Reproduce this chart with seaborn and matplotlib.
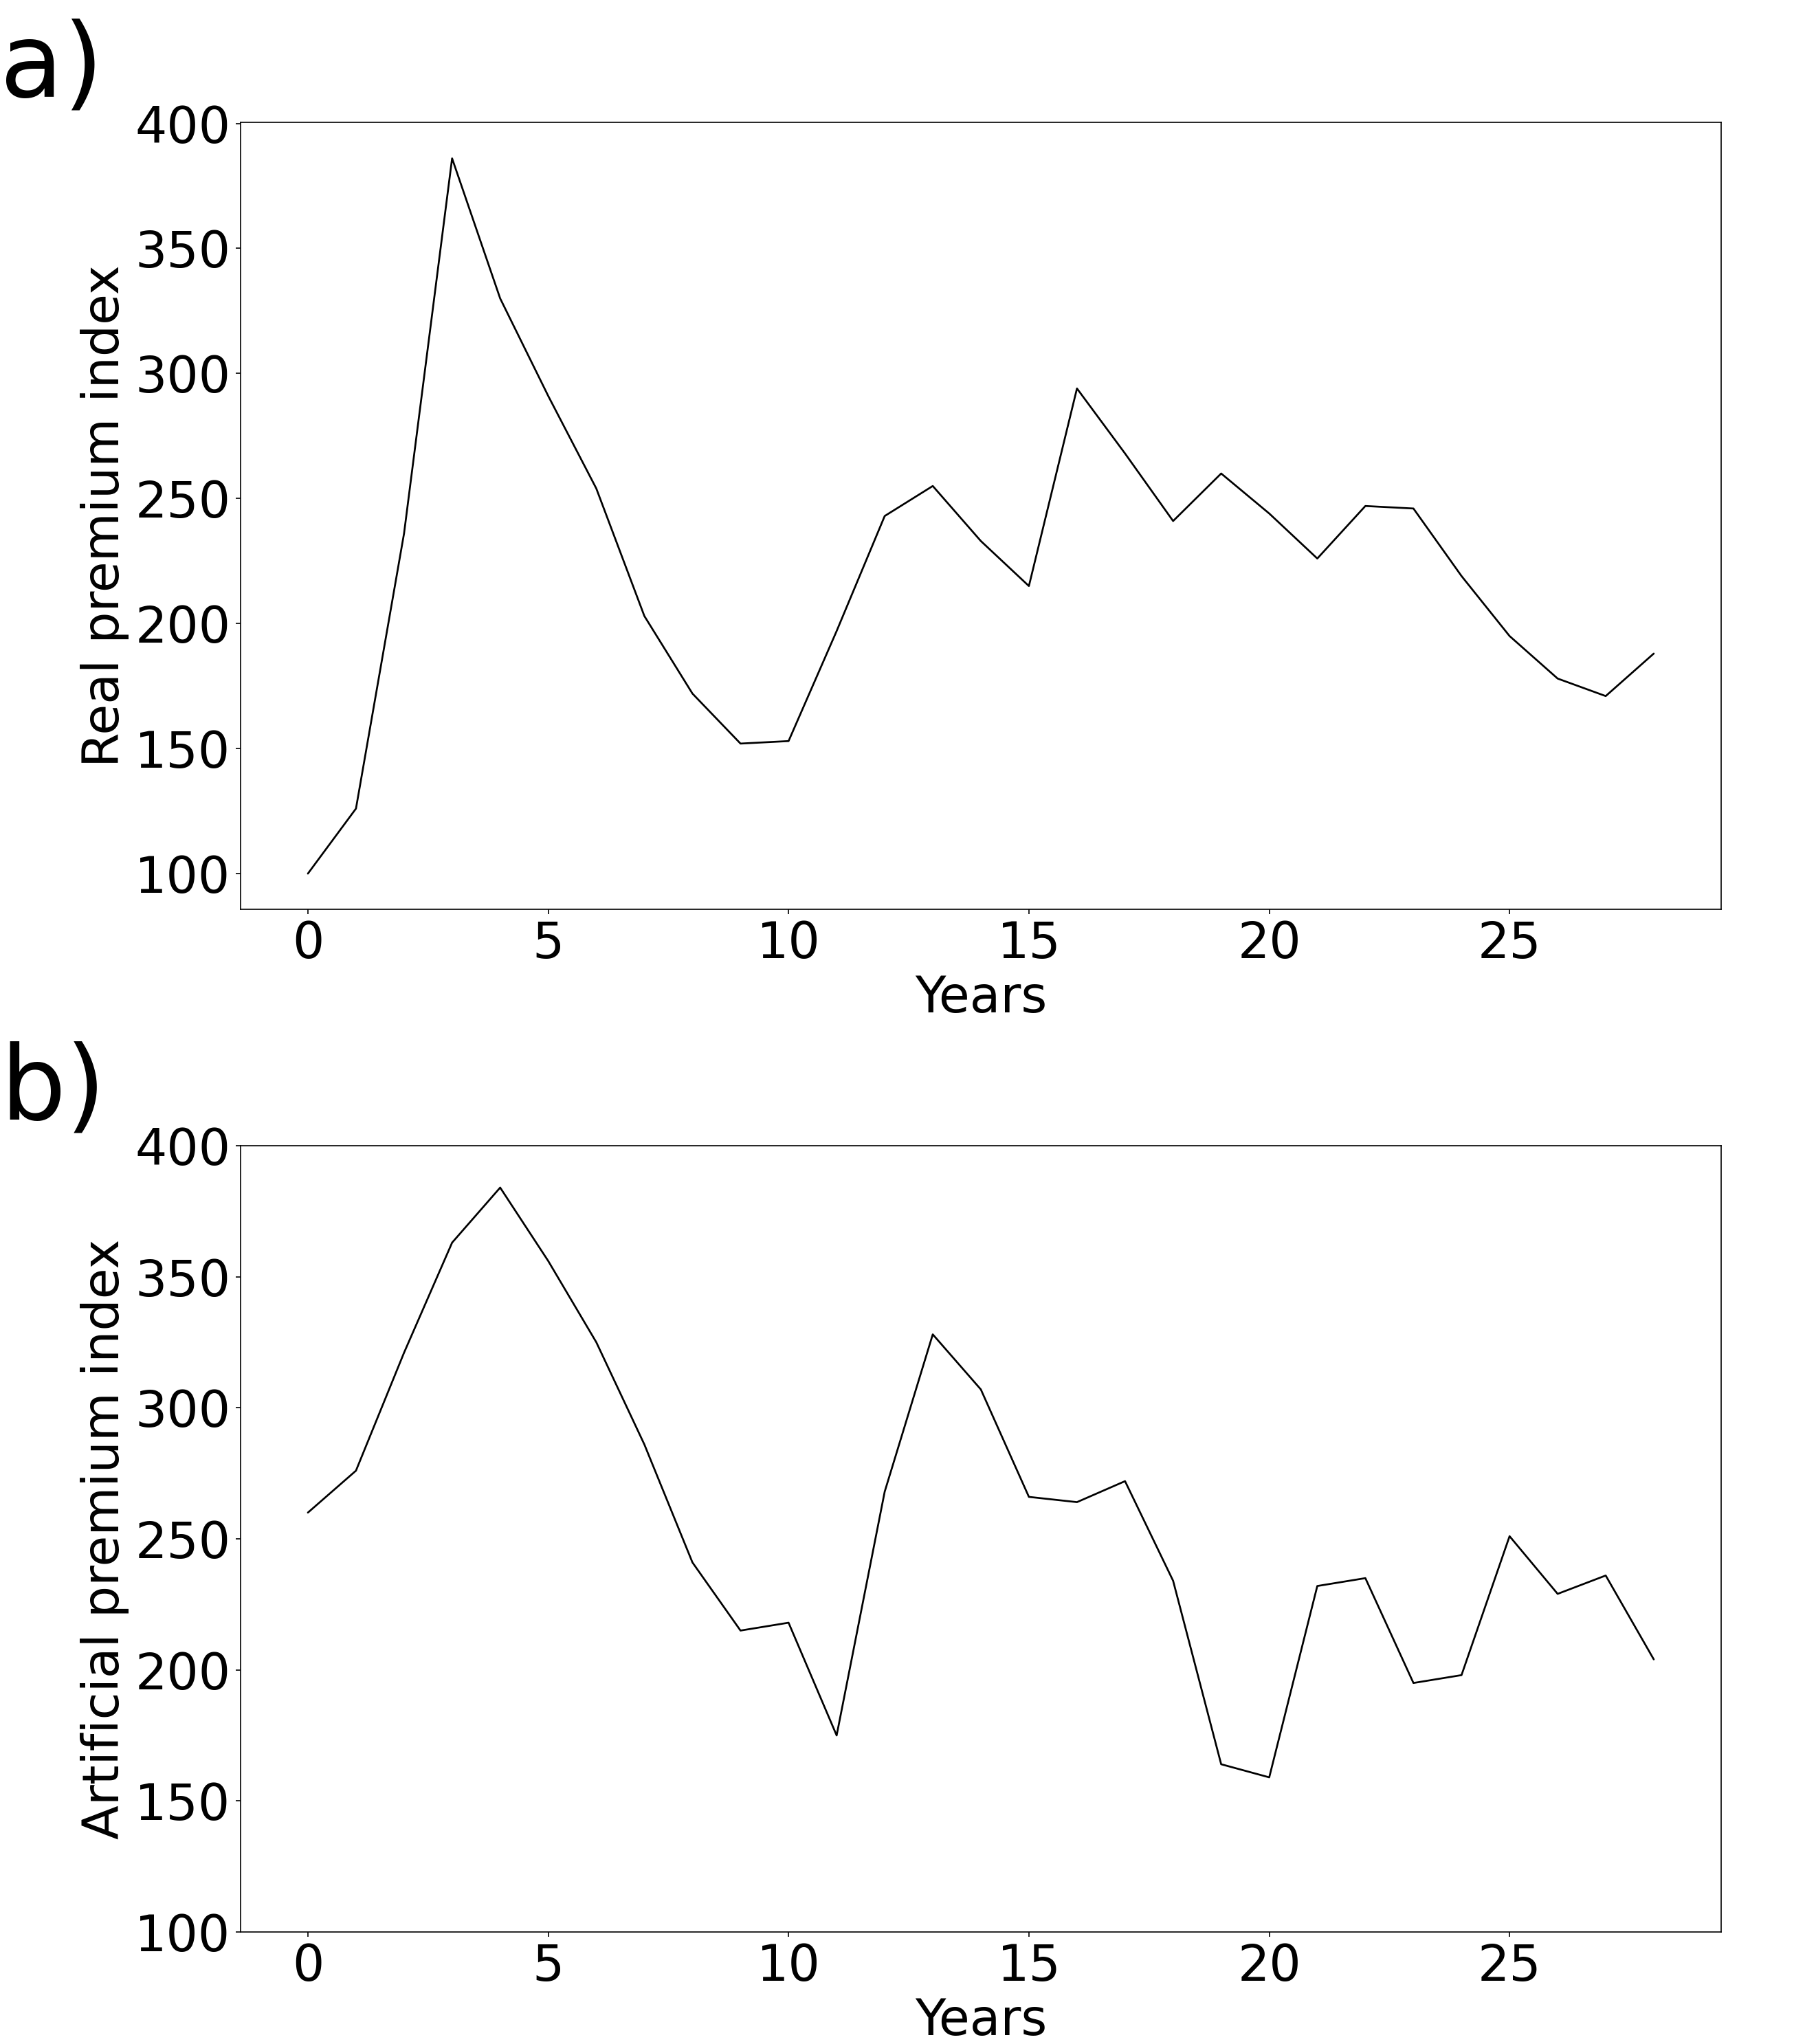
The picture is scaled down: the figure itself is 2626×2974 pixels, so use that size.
import numpy as np
import pandas as pd
import matplotlib
matplotlib.use("Agg")
import matplotlib.pyplot as plt
import seaborn as sns

sns.set_style("ticks", {"axes.edgecolor": "black", "text.color": "black",
                        "axes.labelcolor": "black", "xtick.color": "black",
                        "ytick.color": "black"})
plt.rcParams["font.family"] = ["DejaVu Sans"]

# values
years = list(range(29))
real_index = [100, 126, 236, 386, 330, 291, 254, 203, 172, 152, 153, 197, 243,
              255, 233, 215, 294, 268, 241, 260, 244, 226, 247, 246, 219, 195,
              178, 171, 188]
artificial_index = [260, 276, 321, 363, 384, 356, 325, 286, 241, 215, 218, 175,
                    268, 328, 307, 266, 264, 272, 234, 164, 159, 232, 235, 195,
                    198, 251, 229, 236, 204]

df = pd.DataFrame({"Years": years, "real": real_index, "artificial": artificial_index})

fig = plt.figure(figsize=(2626 / 150, 2974 / 150), dpi=150)
ax1 = fig.add_axes([0.1333, 0.5551, 0.8202, 0.3849])
ax2 = fig.add_axes([0.1333, 0.0548, 0.8202, 0.3847])

sns.lineplot(data=df, x="Years", y="real", color="black", linewidth=1.3, ax=ax1)
sns.lineplot(data=df, x="Years", y="artificial", color="black", linewidth=1.3, ax=ax2)

fs = 35
ax1.set_ylabel("Real premium index", fontsize=fs)
ax2.set_ylabel("Artificial premium index", fontsize=fs)
ax2.set_ylim(100, 400)
for ax in (ax1, ax2):
    ax.set_xlabel("Years", fontsize=fs)
    ax.tick_params(labelsize=fs, width=0.8, length=3.5)
    for s in ax.spines.values():
        s.set_linewidth(0.8)
        s.set_visible(True)

fig.text(0.0, 1 - 140 / 2974, "a)", fontsize=72, va="baseline", ha="left")
fig.text(0.0, 1 - 1628 / 2974, "b)", fontsize=72, va="baseline", ha="left")

fig.savefig("out.png", dpi=150)
